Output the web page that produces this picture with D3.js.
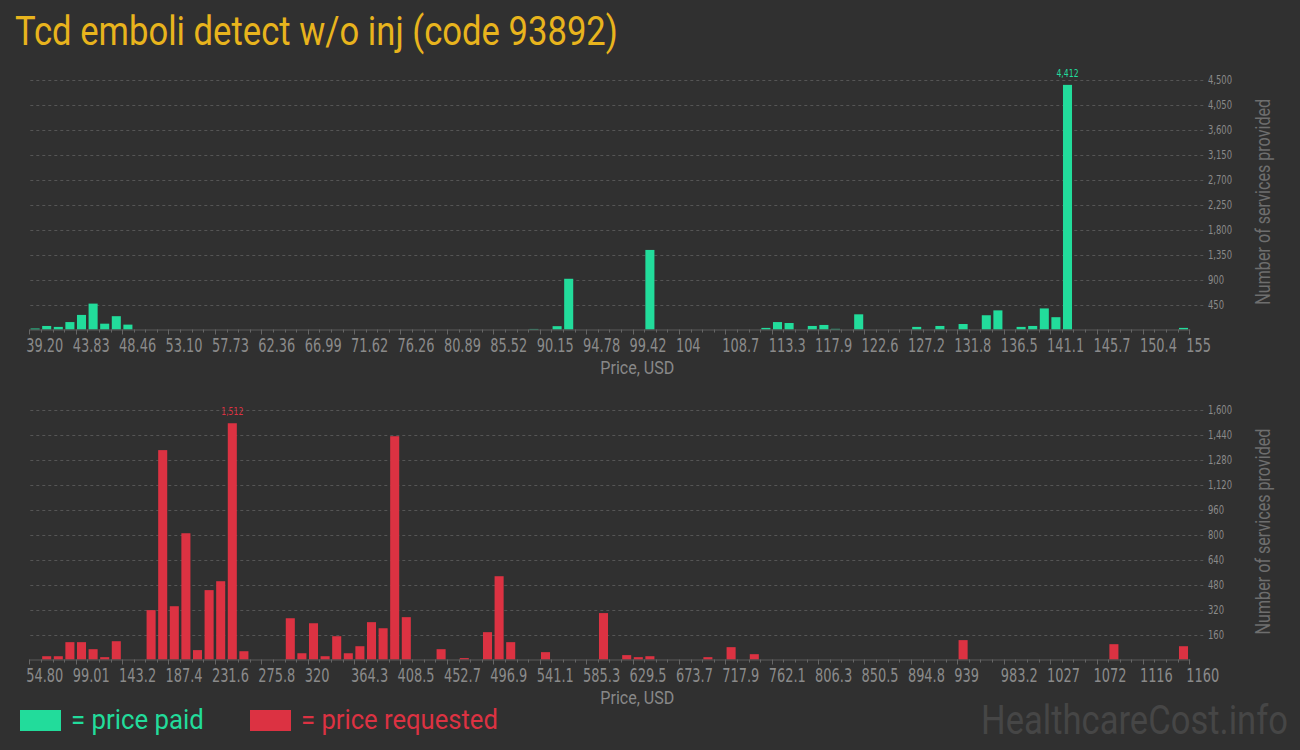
<!DOCTYPE html>
<html>
<head>
<meta charset="utf-8">
<script src="https://cdn.jsdelivr.net/npm/d3@7/dist/d3.min.js"></script>
<style>
  html, body { margin: 0; padding: 0; background: #303030; }
  svg { display: block; }
</style>
</head>
<body>
<svg id="chart" width="1300" height="750"></svg>
<script>
// ---------- DATA ----------
const titleText = "Tcd emboli detect w/o inj (code 93892)";

const paidTickLabels = ["39.20","43.83","48.46","53.10","57.73","62.36","66.99","71.62","76.26","80.89",
  "85.52","90.15","94.78","99.42","104","108.7","113.3","117.9","122.6","127.2","131.8","136.5",
  "141.1","145.7","150.4","155"];
const paidCounts = [
  18,64,47,134,263,467,105,240,88,0, 0,0,0,0,0,0,0,0,0,0,
  0,0,0,0,0,0,0,0,0,0, 0,0,0,0,0,0,0,0,0,0,
  0,0,0,10,0,60,915,0,0,0, 0,0,0,1435,0,0,0,0,0,0,
  0,0,0,29,134,117,0,64,82,12, 0,274,0,0,0,0,47,0,64,0,
  99,0,257,345,0,47,64,380,222,4412, 0,0,0,0,0,0,0,0,0,29
];
const paidYTicks = [450,900,1350,1800,2250,2700,3150,3600,4050,4500];

const reqTickLabels = ["54.80","99.01","143.2","187.4","231.6","275.8","320","364.3","408.5","452.7",
  "496.9","541.1","585.3","629.5","673.7","717.9","762.1","806.3","850.5","894.8","939","983.2",
  "1027","1072","1116","1160"];
const reqCounts = [
  0,21,21,111,111,66,15,117,0,0, 316,1340,341,808,60,444,501,1512,53,0,
  0,0,264,40,232,21,149,40,85,239, 200,1429,271,0,0,66,0,9,0,175,
  533,111,0,0,47,0,0,0,0,297, 0,28,15,21,0,0,0,0,15,0,
  79,0,34,0,0,0,0,0,0,0, 0,0,0,0,0,0,0,0,0,0,
  124,0,0,0,0,0,0,0,0,0, 0,0,0,98,0,0,0,0,0,85
];
const reqYTicks = [160,320,480,640,800,960,1120,1280,1440,1600];

const axisTitleX = "Price, USD";
const axisTitleY = "Number of services provided";
const legendItems = ["= price paid", "= price requested"];
const watermark = "HealthcareCost.info";

// ---------- STYLE ----------
const BG = "#303030";
const GREEN = "#22dc9b";
const RED = "#dc3242";
const GOLD = "#e8b41d";
const NARROW = "'Liberation Sans Narrow', 'DejaVu Sans Condensed', sans-serif";

const svg = d3.select("#chart");
svg.append("rect").attr("width", 1300).attr("height", 750).attr("fill", BG);

// place text and squeeze it horizontally to a target width
function fitText(sel, x, y, width, rotate, anchor) {
  const w = sel.node().getComputedTextLength();
  const s = Math.min(1, width / w);
  sel.attr("text-anchor", anchor || "start")
    .attr("transform", `translate(${x},${y})${rotate ? " rotate(" + rotate + ")" : ""} scale(${s},1)`);
  return sel;
}

fitText(svg.append("text")
  .attr("font-family", "Roboto, sans-serif")
  .attr("font-size", 40)
  .attr("fill", GOLD)
  .text(titleText), 15, 45, 603);

function drawChart(cfg) {
  const { counts, tickLabels, yTicks, yMax, color, top, bottom, left, right } = cfg;
  const n = counts.length;
  const g = svg.append("g");

  const x = d3.scaleBand().domain(d3.range(n)).range([left, right])
    .paddingInner(0.22).paddingOuter(0.11);
  const xe = d3.scaleLinear().domain([0, n]).range([left, right]);
  const y = d3.scaleLinear().domain([0, yMax]).range([bottom, top]);

  // gridlines
  g.selectAll("line.grid").data(yTicks).enter().append("line")
    .attr("x1", left + 1).attr("x2", 1205)
    .attr("y1", d => Math.round(y(d)) + 0.5).attr("y2", d => Math.round(y(d)) + 0.5)
    .attr("stroke", "#555").attr("stroke-width", 1)
    .attr("stroke-dasharray", "3,3");

  // y tick labels
  const fmt = d3.format(",");
  g.selectAll("text.ytick").data(yTicks).enter().append("text")
    .attr("transform", d => `translate(1208,${y(d) + 4}) scale(0.78,1)`)
    .attr("font-family", NARROW).attr("font-size", 12)
    .attr("fill", "#8a8a8a")
    .text(d => fmt(d));

  // bars
  g.selectAll("rect.bar").data(counts.map((v, i) => ({ i, v })).filter(d => d.v > 0))
    .enter().append("rect")
    .attr("x", d => x(d.i)).attr("width", x.bandwidth())
    .attr("y", d => y(d.v)).attr("height", d => bottom - y(d.v))
    .attr("fill", color);

  // max label
  const maxI = d3.maxIndex(counts);
  g.append("text")
    .attr("transform", `translate(${x(maxI) + x.bandwidth() / 2},${y(counts[maxI]) - 8}) scale(0.78,1)`)
    .attr("text-anchor", "middle")
    .attr("font-family", NARROW).attr("font-size", 11)
    .attr("fill", color)
    .text(fmt(counts[maxI]));

  // axis line
  g.append("line")
    .attr("x1", left).attr("x2", right + 1)
    .attr("y1", bottom + 0.5).attr("y2", bottom + 0.5)
    .attr("stroke", "#5a5a5a");

  // ticks
  g.selectAll("line.tick").data(d3.range(n + 1)).enter().append("line")
    .attr("x1", d => Math.round(xe(d)) + 0.5).attr("x2", d => Math.round(xe(d)) + 0.5)
    .attr("y1", bottom).attr("y2", d => bottom + (d % 4 === 0 ? 5 : 3))
    .attr("stroke", "#666");

  // tick labels
  g.selectAll("text.xtick").data(tickLabels).enter().append("text")
    .attr("transform", (d, i) => `translate(${xe(i * 4) - 3},${bottom + 22}) scale(0.72,1)`)
    .attr("font-family", NARROW).attr("font-size", 20)
    .attr("fill", "#8a8a8a")
    .text(d => d);

  // x axis title
  fitText(g.append("text")
    .attr("font-family", "Roboto, sans-serif").attr("font-size", 19)
    .attr("fill", "#888")
    .text(axisTitleX), (left + right) / 2 + 28, bottom + 44.5, 74, null, "middle");

  // y axis title
  fitText(g.append("text")
    .attr("font-family", "Roboto, sans-serif").attr("font-size", 20)
    .attr("fill", "#6e6e6e")
    .text(axisTitleY), 1270, (top + bottom) / 2 - 3, 206, -90, "middle");
}

drawChart({ counts: paidCounts, tickLabels: paidTickLabels, yTicks: paidYTicks, yMax: 4500,
  color: GREEN, top: 80, bottom: 329.5, left: 29.3, right: 1189.3 });
drawChart({ counts: reqCounts, tickLabels: reqTickLabels, yTicks: reqYTicks, yMax: 1600,
  color: RED, top: 409.5, bottom: 659.5, left: 29.3, right: 1189.3 });

// legend
const legend = svg.append("g");
const legendX = [20, 250];
const legendW = [133, 197];
[GREEN, RED].forEach((c, i) => {
  legend.append("rect").attr("x", legendX[i]).attr("y", 710).attr("width", 41).attr("height", 21).attr("fill", c);
  fitText(legend.append("text")
    .attr("font-family", "Roboto, sans-serif").attr("font-size", 27)
    .attr("fill", c)
    .text(legendItems[i]), legendX[i] + 51, 729, legendW[i]);
});

fitText(svg.append("text")
  .attr("font-family", "Roboto, sans-serif").attr("font-size", 40)
  .attr("fill", "#464646")
  .text(watermark), 981, 734, 307);
</script>
</body>
</html>
